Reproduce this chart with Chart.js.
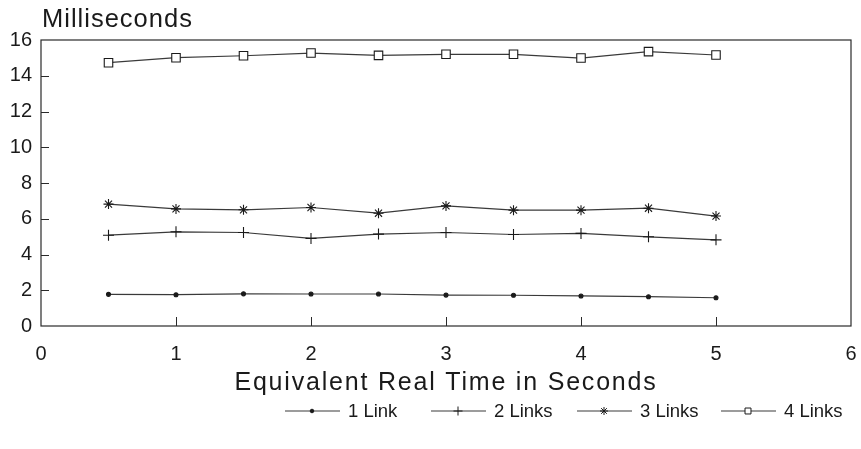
<!DOCTYPE html>
<html>
<head>
<meta charset="utf-8">
<script src="https://cdn.jsdelivr.net/npm/chart.js@4.4.1/dist/chart.umd.min.js"></script>
<style>
  html, body { margin: 0; padding: 0; background: #fff; }
  #wrap { width: 861px; height: 449px; position: relative; }
</style>
</head>
<body>
<div id="wrap"><canvas id="chart"></canvas></div>
<script>
// Datos
const timeSeconds = [0.5, 1, 1.5, 2, 2.5, 3, 3.5, 4, 4.5, 5];
const oneLink    = [1.77, 1.75, 1.80, 1.79, 1.79, 1.73, 1.72, 1.68, 1.64, 1.58];
const twoLinks   = [5.08, 5.27, 5.23, 4.90, 5.14, 5.23, 5.12, 5.18, 4.99, 4.82];
const threeLinks = [6.82, 6.55, 6.50, 6.63, 6.31, 6.72, 6.48, 6.48, 6.59, 6.15];
const fourLinks  = [14.73, 15.01, 15.12, 15.27, 15.14, 15.20, 15.20, 14.99, 15.35, 15.16];
const xTicks = [0, 1, 2, 3, 4, 5, 6];
const yTicks = [0, 2, 4, 6, 8, 10, 12, 14, 16];
const seriesNames = ['1 Link', '2 Links', '3 Links', '4 Links'];

const FONT = "'Liberation Sans', Arial, Helvetica, sans-serif";
const INK = '#1a1a1a';
const LINE = '#3a3a3a';

const styles = [
    { pointStyle: 'circle', radius: 2,   legendRadius: 1.8, fill: INK },
    { pointStyle: 'cross',  radius: 5.5, legendRadius: 4.5, fill: '#fff' },
    { pointStyle: 'star',   radius: 5,   legendRadius: 4,   fill: '#fff' },
    { pointStyle: 'rect',   radius: 6,   legendRadius: 4.2, fill: '#fff' },
];

const allSeries = [oneLink, twoLinks, threeLinks, fourLinks];

const datasets = allSeries.map((vals, i) => ({
    label: seriesNames[i],
    data: timeSeconds.map((t, k) => ({ x: t, y: vals[k] })),
    borderColor: LINE,
    borderWidth: 1.2,
    pointStyle: styles[i].pointStyle,
    pointRadius: styles[i].radius,
    pointBorderColor: INK,
    pointBackgroundColor: styles[i].fill,
    pointBorderWidth: 1.1,
    tension: 0,
    fill: false,
}));

function drawMarker(ctx, style, r, x, y, fill) {
    ctx.save();
    ctx.strokeStyle = INK;
    ctx.fillStyle = fill;
    ctx.lineWidth = 1;
    if (Chart.helpers && Chart.helpers.drawPoint) {
        Chart.helpers.drawPoint(ctx, { pointStyle: style, radius: r, borderWidth: 1, rotation: 0 }, x, y);
    } else {
        ctx.beginPath();
        ctx.arc(x, y, r, 0, Math.PI * 2);
        ctx.fill();
        ctx.stroke();
    }
    ctx.restore();
}

// Marco, marcas interiores, títulos y leyenda
const framePlugin = {
    id: 'frame',
    afterDraw(chart) {
        const { ctx, chartArea: a, scales } = chart;
        ctx.save();
        ctx.strokeStyle = '#2a2a2a';
        ctx.lineWidth = 1.2;
        ctx.strokeRect(a.left, a.top, a.right - a.left, a.bottom - a.top);

        ctx.lineWidth = 1;
        ctx.beginPath();
        yTicks.forEach(v => {
            if (v === yTicks[0] || v === yTicks[yTicks.length - 1]) return;
            const py = Math.round(scales.y.getPixelForValue(v)) + 0.5;
            ctx.moveTo(a.left, py);
            ctx.lineTo(a.left + 8, py);
        });
        xTicks.forEach(v => {
            if (v === xTicks[0] || v === xTicks[xTicks.length - 1]) return;
            const px = Math.round(scales.x.getPixelForValue(v)) + 0.5;
            ctx.moveTo(px, a.bottom);
            ctx.lineTo(px, a.bottom - 9);
        });
        ctx.stroke();

        ctx.fillStyle = INK;
        ctx.textBaseline = 'middle';
        ctx.textAlign = 'left';
        ctx.font = `25.5px ${FONT}`;
        ctx.letterSpacing = '1px';
        ctx.fillText('Milliseconds', a.left + 1, 20);

        ctx.textAlign = 'center';
        ctx.font = `25px ${FONT}`;
        ctx.letterSpacing = '1.8px';
        ctx.fillText('Equivalent Real Time in Seconds', 446, 383);
        ctx.letterSpacing = '0px';

        // Leyenda
        const legendY = 411;
        const starts = [285, 431, 577, 721];
        ctx.font = `18.5px ${FONT}`;
        ctx.textAlign = 'left';
        seriesNames.forEach((name, i) => {
            const x0 = starts[i];
            ctx.strokeStyle = LINE;
            ctx.lineWidth = 1.1;
            ctx.beginPath();
            ctx.moveTo(x0, legendY);
            ctx.lineTo(x0 + 55, legendY);
            ctx.stroke();
            drawMarker(ctx, styles[i].pointStyle, styles[i].legendRadius, x0 + 27, legendY, styles[i].fill);
            ctx.fillStyle = INK;
            ctx.fillText(name, x0 + 63, legendY + 1);
        });
        ctx.restore();
    }
};

const chart = new Chart(document.getElementById('chart').getContext('2d'), {
    type: 'line',
    data: { datasets },
    options: {
        responsive: true,
        maintainAspectRatio: false,
        animation: false,
        layout: { padding: { top: 40, right: 10, bottom: 52, left: 0 } },
        plugins: {
            legend: { display: false },
            tooltip: { enabled: false },
        },
        scales: {
            x: {
                type: 'linear',
                min: 0,
                max: 6,
                afterBuildTicks: s => { s.ticks = xTicks.map(v => ({ value: v })); },
                afterFit: s => { s.height = 71; s.paddingRight = 0; s.paddingLeft = 0; },
                grid: { display: false },
                border: { display: false },
                ticks: {
                    color: INK,
                    padding: 8,
                    font: { family: FONT, size: 20 },
                    maxRotation: 0,
                },
            },
            y: {
                type: 'linear',
                min: 0,
                max: 16,
                afterBuildTicks: s => { s.ticks = yTicks.map(v => ({ value: v })); },
                afterFit: s => { s.width = 41; },
                grid: { display: false },
                border: { display: false },
                ticks: {
                    color: INK,
                    padding: 1,
                    font: { family: FONT, size: 20 },
                },
            },
        },
    },
    plugins: [framePlugin],
});
</script>
</body>
</html>
